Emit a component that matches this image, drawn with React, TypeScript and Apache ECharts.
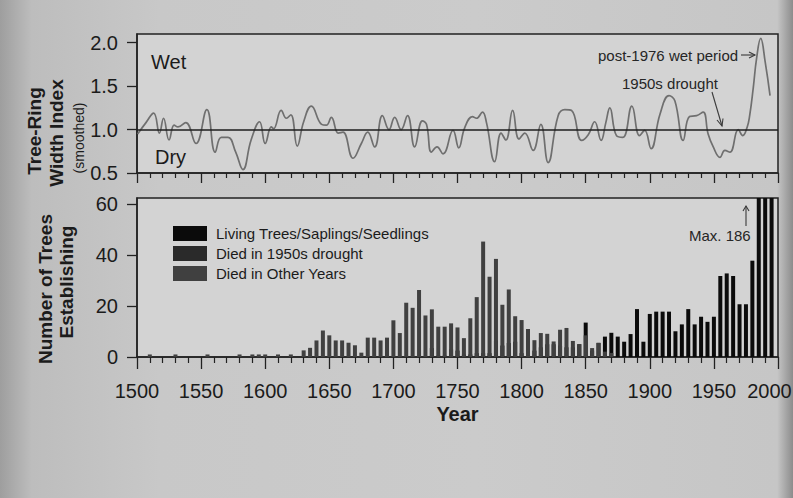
import React, { useEffect, useRef } from 'react';
import * as echarts from 'echarts';

const FONT = '"Liberation Sans", Arial, Helvetica, sans-serif';

// ---- Top panel: smoothed tree-ring width index (year, index) ----
const ringYears = [
  1500.5, 1507, 1513, 1517.5, 1520.7, 1525, 1529, 1532, 1538, 1546,
  1554.5, 1561, 1565.7, 1571, 1577, 1582.6, 1589, 1595.6, 1600, 1604.8,
  1606.5, 1612.5, 1616.5, 1620, 1625, 1630, 1636, 1644, 1647.7, 1651.6,
  1657, 1660.7, 1668.5, 1675, 1680, 1685.4, 1691.4, 1696.6, 1701, 1706,
  1711, 1716.6, 1722.6, 1725.8, 1729.7, 1734, 1738.7, 1746.5, 1751, 1755.6,
  1761.7, 1764.8, 1769.5, 1772.6, 1779, 1784, 1787.7, 1793, 1798, 1802.5,
  1809, 1815, 1820.7, 1828.5, 1833.7, 1839, 1846.8, 1852, 1857, 1862,
  1865.7, 1868.8, 1874, 1879, 1886, 1892, 1896, 1901, 1908, 1915,
  1919.6, 1926, 1931, 1936.5, 1941.6, 1945.5, 1949.5, 1954.7, 1958.6, 1962.5,
  1969, 1972.5, 1976, 1977.9, 1980.7, 1983.3, 1986.5, 1990, 1993.8
];
const ringIndex = [
  0.95, 1.08, 1.19, 0.96, 1.13, 0.88, 1.05, 1.03, 1.08, 0.84,
  1.23, 0.74, 0.91, 0.91, 0.74, 0.54, 0.88, 1.09, 0.84, 1.03,
  1.01, 1.22, 1.13, 1.17, 0.81, 1.09, 1.27, 1.06, 1.05, 1.14,
  0.96, 0.97, 0.67, 0.84, 0.97, 0.8, 1.16, 1.0, 1.14, 1.0,
  1.16, 0.8, 1.1, 1.06, 0.74, 0.8, 0.72, 0.99, 0.79, 1.02,
  1.15, 1.13, 1.2, 1.08, 0.63, 0.96, 0.88, 1.22, 0.89, 0.96,
  0.76, 1.06, 0.62, 1.16, 1.23, 1.22, 0.875, 0.94, 1.09, 0.875,
  1.08, 1.25, 0.93, 0.91, 1.27, 0.93, 0.99, 0.78, 1.18, 1.39,
  1.33, 0.875, 1.15, 1.16, 1.2, 0.95, 0.8, 0.68, 0.76, 0.74,
  1.0, 0.93, 1.03, 1.16, 1.48, 1.82, 2.05, 1.78, 1.39
];

// ---- Bottom panel: trees establishing per 5-year bin ----
const barYears = [
  1505, 1510, 1515, 1520, 1525, 1530, 1535, 1540, 1545, 1550,
  1555, 1560, 1565, 1570, 1575, 1580, 1585, 1590, 1595, 1600,
  1605, 1610, 1615, 1620, 1625, 1630, 1635, 1640, 1645, 1650,
  1655, 1660, 1665, 1670, 1675, 1680, 1685, 1690, 1695, 1700,
  1705, 1710, 1715, 1720, 1725, 1730, 1735, 1740, 1745, 1750,
  1755, 1760, 1765, 1770, 1775, 1780, 1785, 1790, 1795, 1800,
  1805, 1810, 1815, 1820, 1825, 1830, 1835, 1840, 1845, 1850,
  1855, 1860, 1865, 1870, 1875, 1880, 1885, 1890, 1895, 1900,
  1905, 1910, 1915, 1920, 1925, 1930, 1935, 1940, 1945, 1950,
  1955, 1960, 1965, 1970, 1975, 1980, 1985, 1990, 1995
];
const totalTrees = [
  0, 1, 0, 0, 0, 1, 0, 0, 0, 0,
  1, 0, 0, 0, 0, 1, 0, 1, 1, 1,
  0, 1, 0, 1, 0, 2.6, 3.6, 6.5, 10.4, 8.5,
  6.5, 6.5, 5.6, 4.6, 1.7, 7.6, 7.6, 6.5, 7.6, 14.4,
  9.4, 21.3, 19.3, 26.3, 16.3, 22.2, 12.4, 12.4, 16.2, 14.1,
  8.4, 16.2, 25, 46.8, 33, 45, 25, 32, 22, 16,
  17, 9.1, 13.2, 14.1, 11.1, 15.2, 15.2, 10.1, 10.1, 22,
  6, 11.1, 10.1, 11.1, 8, 6, 9, 18.8, 6, 16.9,
  17.8, 17.8, 17.8, 10.1, 12.8, 18.8, 12.8, 15.8, 13.8, 15.8,
  31.8, 32.8, 31.8, 20.7, 20.7, 37.8, 186, 120, 90
];
const livingTrees = [
  0, 0, 0, 0, 0, 0, 0, 0, 0, 0,
  0, 0, 0, 0, 0, 0, 0, 0, 0, 0,
  0, 0, 0, 0, 0, 0, 0, 0, 0, 0,
  0, 0, 0, 0, 0, 0, 0, 0, 0, 0,
  0, 0, 0, 0, 0, 3.5, 0.5, 0.5, 3, 2.5,
  1, 1, 1.5, 1.5, 1.5, 6.5, 4.5, 5.5, 6, 1.5,
  6, 2.5, 3.8, 5, 5, 4.5, 3.8, 3.8, 5, 13.5,
  2.5, 5.5, 8, 9.5, 8, 6, 9, 18.8, 6, 16.9,
  17.8, 17.8, 17.8, 10.1, 12.8, 18.8, 12.8, 15.8, 13.8, 15.8,
  31.8, 32.8, 31.8, 20.7, 20.7, 37.8, 186, 120, 90
];
const droughtDeaths = barYears.map(() => 0);

const ringTicks = [0.5, 1.0, 1.5, 2.0];
const countTicks = [0, 20, 40, 60];
const legendNames = ['Living Trees/Saplings/Seedlings', 'Died in 1950s drought', 'Died in Other Years'];
const barColors = ['#0b0b0b', '#2a2a2a', '#404040'];

const TXT = '#1b1b1b';

function vArrow(points: number[][]) {
  return { type: 'polyline', shape: { points }, style: { stroke: '#3a3a3a', lineWidth: 1.1, fill: null } };
}

export default function App() {
  const ref = useRef<HTMLDivElement>(null);
  useEffect(() => {
    const chart = echarts.init(ref.current!, null, { renderer: 'svg', width: 793, height: 498 });
    const otherDeaths = totalTrees.map((t, i) => Math.max(0, t - livingTrees[i] - droughtDeaths[i]));
    const stacks = [livingTrees, droughtDeaths, otherDeaths];

    const xCommon = {
      type: 'value',
      min: 1500,
      max: 2000,
      interval: 50,
      axisLine: { show: true, lineStyle: { color: '#222', width: 1.5 } },
      splitLine: { show: false },
      minorSplitLine: { show: false },
    };

    const gridCommon = {
      left: 137, right: 15, show: true, borderColor: '#222', borderWidth: 1.5,
      backgroundColor: '#d3d3d3', containLabel: false, outerBoundsMode: 'none',
    };

    const option: any = {
      animation: false,
      grid: [
        { ...gridCommon, top: 34, height: 139 },
        { ...gridCommon, top: 198, height: 159 },
      ],
      xAxis: [
        {
          ...xCommon,
          gridIndex: 0,
          axisLabel: { show: false },
          axisTick: { show: true, length: 10, lineStyle: { color: '#222', width: 1.3 } },
          minorTick: { show: true, splitNumber: 5, length: 5, lineStyle: { color: '#222', width: 1.2 } },
        },
        {
          ...xCommon,
          gridIndex: 1,
          axisLabel: {
            show: true, fontSize: 20, color: TXT, fontFamily: FONT, margin: 24,
            formatter: (v: number) => (Math.round(v) === 2000 ? '{e|2000}' : String(Math.round(v))),
            rich: { e: { fontSize: 20, color: TXT, fontFamily: FONT, padding: [0, 17, 0, 0] } },
          },
          axisTick: { show: true, length: 12, lineStyle: { color: '#222', width: 1.3 } },
          minorTick: { show: true, splitNumber: 5, length: 6, lineStyle: { color: '#222', width: 1.2 } },
          name: 'Year',
          nameLocation: 'middle',
          nameGap: 47,
          nameTextStyle: { fontSize: 20, fontWeight: 'bold', color: TXT, fontFamily: FONT },
        },
      ],
      yAxis: [
        {
          type: 'value',
          gridIndex: 0,
          min: 0.5,
          max: 2.1,
          interval: 0.5,
          axisLine: { show: true, lineStyle: { color: '#222', width: 1.5 } },
          axisTick: { show: true, length: 10, customValues: ringTicks, lineStyle: { color: '#222', width: 1.3 } },
          axisLabel: {
            show: true, fontSize: 20, color: TXT, fontFamily: FONT, margin: 19,
            customValues: ringTicks,
            formatter: (v: number) => v.toFixed(1),
          },
          splitLine: { show: false },
        },
        {
          type: 'value',
          gridIndex: 1,
          min: 0,
          max: 62.4,
          interval: 20,
          axisLine: { show: true, lineStyle: { color: '#222', width: 1.5 } },
          axisTick: { show: true, length: 10, customValues: countTicks, lineStyle: { color: '#222', width: 1.3 } },
          axisLabel: {
            show: true, fontSize: 20, color: TXT, fontFamily: FONT, margin: 19,
            customValues: countTicks,
            formatter: (v: number) => String(Math.round(v)),
          },
          splitLine: { show: false },
        },
      ],
      legend: {
        data: legendNames,
        orient: 'vertical',
        left: 168,
        top: 221,
        itemWidth: 34,
        itemHeight: 15,
        itemGap: 5,
        icon: 'rect',
        selectedMode: false,
        textStyle: { fontSize: 15, color: TXT, fontFamily: FONT, lineHeight: 15, padding: [0, 0, 0, 4] },
      },
      series: [
        {
          type: 'line',
          name: 'Tree-ring index',
          xAxisIndex: 0,
          yAxisIndex: 0,
          data: ringYears.map((y, i) => [y, ringIndex[i]]),
          smooth: 0.45,
          showSymbol: false,
          symbol: 'none',
          lineStyle: { color: '#6f6f6f', width: 1.7 },
          markLine: {
            silent: true,
            symbol: 'none',
            label: { show: false },
            lineStyle: { color: '#1e1e1e', width: 1.6, type: 'solid' },
            data: [{ yAxis: 1.0 }],
          },
          z: 3,
        },
        ...stacks.map((arr, k) => ({
          type: 'bar',
          name: legendNames[k],
          xAxisIndex: 1,
          yAxisIndex: 1,
          stack: 'trees',
          barWidth: 4,
          clip: true,
          itemStyle: { color: barColors[k] },
          data: barYears.map((y, i) => [y, arr[i]]),
        })),
      ],
      graphic: [
        { type: 'text', x: 151, y: 62, style: { text: 'Wet', fontSize: 20, fill: TXT, fontFamily: FONT, align: 'left', verticalAlign: 'middle' } },
        { type: 'text', x: 155, y: 157, style: { text: 'Dry', fontSize: 20, fill: TXT, fontFamily: FONT, align: 'left', verticalAlign: 'middle' } },
        { type: 'text', x: 598, y: 55, style: { text: 'post-1976 wet period', fontSize: 15, fill: '#262626', fontFamily: FONT, align: 'left', verticalAlign: 'middle' } },
        { type: 'line', shape: { x1: 741, y1: 55, x2: 755, y2: 55 }, style: { stroke: '#3a3a3a', lineWidth: 1.1 } },
        vArrow([[749, 52], [755, 55], [749, 58]]),
        { type: 'text', x: 622, y: 83, style: { text: '1950s drought', fontSize: 15, fill: '#262626', fontFamily: FONT, align: 'left', verticalAlign: 'middle' } },
        { type: 'line', shape: { x1: 712, y1: 92, x2: 722, y2: 126 }, style: { stroke: '#3a3a3a', lineWidth: 1.1 } },
        vArrow([[717, 120], [722, 126], [723, 118.5]]),
        { type: 'text', x: 689, y: 235, style: { text: 'Max. 186', fontSize: 15, fill: '#262626', fontFamily: FONT, align: 'left', verticalAlign: 'middle' } },
        { type: 'line', shape: { x1: 746, y1: 226, x2: 746, y2: 206 }, style: { stroke: '#3a3a3a', lineWidth: 1.1 } },
        vArrow([[743, 211], [746, 206], [749, 211]]),
        { type: 'text', x: 34, y: 131, rotation: Math.PI / 2, style: { text: 'Tree-Ring', fontSize: 19, fontWeight: 'bold', fill: TXT, fontFamily: FONT, align: 'center', verticalAlign: 'middle' } },
        { type: 'text', x: 56, y: 133, rotation: Math.PI / 2, style: { text: 'Width Index', fontSize: 19, fontWeight: 'bold', fill: TXT, fontFamily: FONT, align: 'center', verticalAlign: 'middle' } },
        { type: 'text', x: 79, y: 138, rotation: Math.PI / 2, style: { text: '(smoothed)', fontSize: 14, fill: TXT, fontFamily: FONT, align: 'center', verticalAlign: 'middle' } },
        { type: 'text', x: 45, y: 289, rotation: Math.PI / 2, style: { text: 'Number of Trees', fontSize: 19, fontWeight: 'bold', fill: TXT, fontFamily: FONT, align: 'center', verticalAlign: 'middle' } },
        { type: 'text', x: 66, y: 282, rotation: Math.PI / 2, style: { text: 'Establishing', fontSize: 19, fontWeight: 'bold', fill: TXT, fontFamily: FONT, align: 'center', verticalAlign: 'middle' } },
      ],
    };
    chart.setOption(option);
    return () => chart.dispose();
  }, []);

  return (
    <div
      style={{
        position: 'fixed',
        left: 0,
        top: 0,
        width: 793,
        height: 498,
        overflow: 'hidden',
        background: 'linear-gradient(90deg, #9e9e9e 0%, #bdbdbd 4%, #c8c8c8 20%, #cbcbcb 60%, #c6c6c6 98%, #8c8c8c 100%)',
      }}
    >
      <div ref={ref} style={{ width: 793, height: 498 }} />
    </div>
  );
}
